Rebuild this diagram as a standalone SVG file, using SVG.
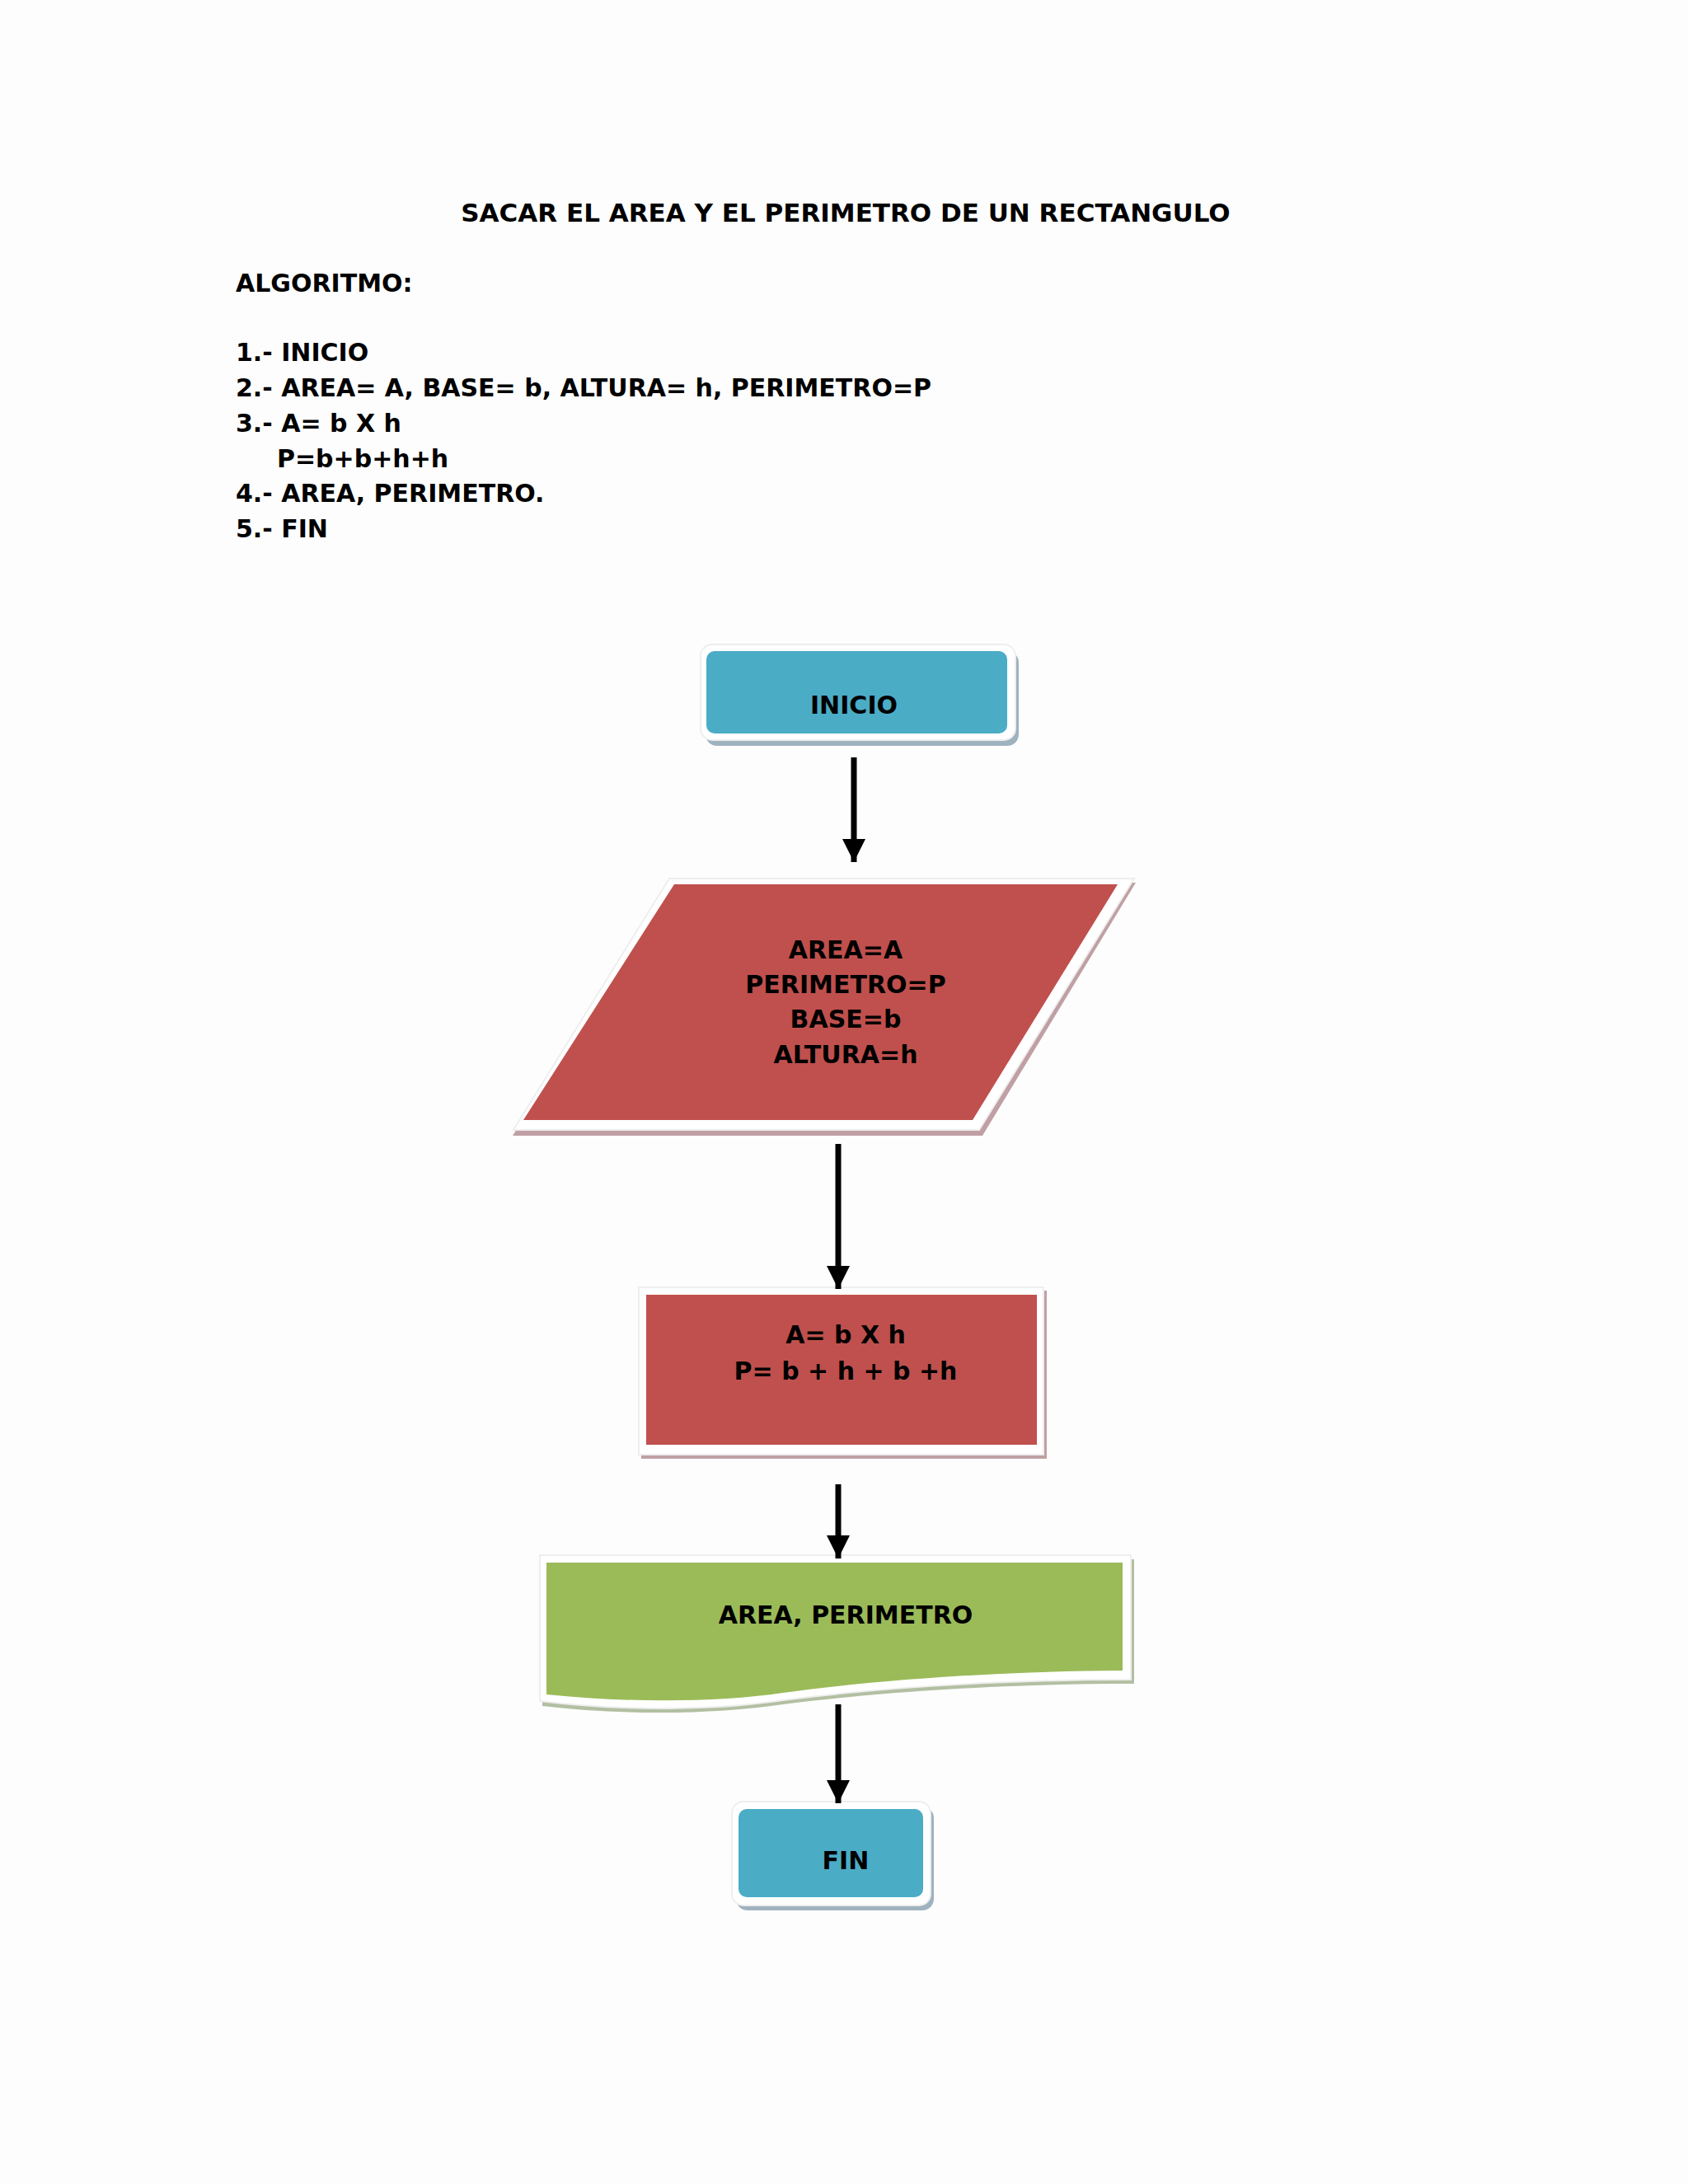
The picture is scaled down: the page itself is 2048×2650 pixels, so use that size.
<svg xmlns="http://www.w3.org/2000/svg" width="2048" height="2650" viewBox="0 0 2048 2650">
<defs>
<style>
text{font-family:"DejaVu Sans","Liberation Sans",sans-serif;font-weight:bold;fill:#000;font-size:30px}
.c{text-anchor:middle}
.w{fill:#fff;stroke:#eeeeee;stroke-width:2}
.conn{stroke:#000;stroke-width:7;fill:none;marker-end:url(#ah)}
</style>
<marker id="ah" viewBox="0 0 10 10" refX="10" refY="5" markerWidth="4" markerHeight="4" orient="auto" markerUnits="strokeWidth"><path d="M0,0L10,5L0,10z" fill="#000"/></marker>
</defs>
<rect width="2048" height="2650" fill="#fdfdfd"/>
<g id="text">
<text class="c" x="1026" y="269" style="font-size:31px">SACAR EL AREA Y EL PERIMETRO DE UN RECTANGULO</text>
<text x="286" y="354">ALGORITMO:</text>
<text x="286" y="438">1.- INICIO</text>
<text x="286" y="481">2.- AREA= A, BASE= b, ALTURA= h, PERIMETRO=P</text>
<text x="286" y="524">3.- A= b X h</text>
<text x="336" y="567">P=b+b+h+h</text>
<text x="286" y="609">4.- AREA, PERIMETRO.</text>
<text x="286" y="652">5.- FIN</text>
</g>
<g id="inicio">
<rect x="856" y="790" width="380" height="115" rx="14" fill="#9fb2bf"/>
<rect x="850" y="782" width="382" height="116" rx="14" class="w"/>
<rect x="857" y="790" width="365" height="100" rx="10" fill="#4bacc6"/>
<text class="c" x="1036" y="866">INICIO</text>
</g>
<g id="entrada">
<polygon points="815,1071 1378,1071 1192,1378 622,1378" fill="#c0a0a4"/>
<polygon points="812,1066 1376,1066 1188,1371 623,1371" class="w"/>
<polygon points="818,1073 1356,1073 1180,1359 635,1359" fill="#c0504d"/>
<text class="c" x="1026" y="1163">AREA=A</text>
<text class="c" x="1026" y="1205">PERIMETRO=P</text>
<text class="c" x="1026" y="1247">BASE=b</text>
<text class="c" x="1026" y="1290">ALTURA=h</text>
</g>
<g id="proceso">
<rect x="778" y="1566" width="492" height="204" fill="#c0a0a4"/>
<rect x="775" y="1562" width="491" height="203" class="w"/>
<rect x="784" y="1571" width="474" height="182" fill="#c0504d"/>
<text class="c" x="1026" y="1630">A= b X h</text>
<text class="c" x="1026" y="1674">P= b + h + b +h</text>
</g>
<g id="salida">
<path d="M658,1892 H1376 V2043 C1200,2043 1050,2055 950,2068 C870,2080 760,2082 658,2070 Z" fill="#b3bfa2"/>
<path d="M655,1887 H1372 V2038 C1200,2038 1050,2050 950,2063 C870,2075 760,2077 655,2064 Z" class="w"/>
<path d="M663,1896 H1362 V2027 C1200,2028 1050,2040 950,2054 C870,2066 760,2066 663,2056 Z" fill="#9bbb59"/>
<text class="c" x="1026" y="1970">AREA, PERIMETRO</text>
</g>
<g id="fin">
<rect x="893" y="2192" width="240" height="126" rx="14" fill="#9fb2bf"/>
<rect x="888" y="2186" width="241" height="126" rx="14" class="w"/>
<rect x="896" y="2195" width="224" height="107" rx="10" fill="#4bacc6"/>
<text class="c" x="1026" y="2268">FIN</text>
</g>
<g id="connectors">
<line class="conn" x1="1036" y1="919" x2="1036" y2="1046"/>
<line class="conn" x1="1017" y1="1388" x2="1017" y2="1564"/>
<line class="conn" x1="1017" y1="1801" x2="1017" y2="1891"/>
<line class="conn" x1="1017" y1="2068" x2="1017" y2="2188"/>
</g>
</svg>
